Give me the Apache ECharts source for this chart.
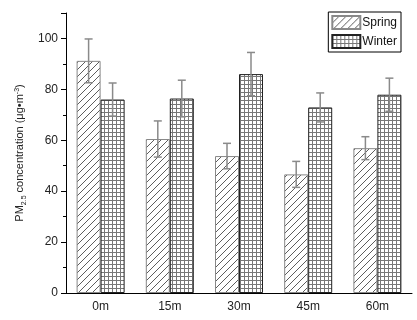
<!DOCTYPE html>
<html>
<head>
<meta charset="utf-8">
<script src="https://cdn.jsdelivr.net/npm/echarts@6/dist/echarts.min.js"></script>
<style>
  html, body { margin: 0; padding: 0; background: #fff; }
  #chart { width: 417px; height: 320px; }
</style>
</head>
<body>
<div id="chart"></div>
<script>
// sampling sites and measured means / standard deviations
const sites = ['0m', '15m', '30m', '45m', '60m'];
const springMean = [91.2, 60.5, 53.8, 46.6, 56.9];
const springErr = [8.6, 7.1, 5.0, 5.1, 4.5];
const winterMean = [76.0, 76.4, 86.0, 72.9, 77.9];
const winterErr = [6.5, 7.2, 8.5, 5.7, 6.5];

// hatch fills like the original plot
function hatchPattern() {
  const c = document.createElement('canvas');
  c.width = 7; c.height = 7;
  const ctx = c.getContext('2d');
  ctx.fillStyle = '#fff';
  ctx.fillRect(0, 0, 7, 7);
  ctx.strokeStyle = '#333';
  ctx.lineWidth = 0.8;
  ctx.beginPath();
  ctx.moveTo(-1, 8); ctx.lineTo(8, -1);
  ctx.moveTo(-1, 1); ctx.lineTo(1, -1);
  ctx.moveTo(6, 8); ctx.lineTo(8, 6);
  ctx.stroke();
  return c;
}

function gridPattern() {
  const c = document.createElement('canvas');
  c.width = 4; c.height = 4;
  const ctx = c.getContext('2d');
  ctx.fillStyle = '#fff';
  ctx.fillRect(0, 0, 4, 4);
  ctx.fillStyle = '#777';
  ctx.fillRect(0, 0, 4, 1);
  ctx.fillRect(0, 0, 1, 4);
  return c;
}

const barW = 24;

function errorSeries(name, means, errs, side) {
  return {
    type: 'custom',
    name: name + ' err',
    z: 5,
    data: means.map((m, i) => [i, m, errs[i]]),
    renderItem: function (params, api) {
      const i = api.value(0);
      const top = api.coord([i, api.value(1) + api.value(2)]);
      const bot = api.coord([i, api.value(1) - api.value(2)]);
      const x = top[0] + side * barW / 2;
      const cap = 4;
      const style = { stroke: '#8a8a8a', lineWidth: 1.5 };
      return {
        type: 'group',
        children: [
          { type: 'line', shape: { x1: x, y1: top[1], x2: x, y2: bot[1] }, style: style },
          { type: 'line', shape: { x1: x - cap, y1: top[1], x2: x + cap, y2: top[1] }, style: style },
          { type: 'line', shape: { x1: x - cap, y1: bot[1], x2: x + cap, y2: bot[1] }, style: style }
        ]
      };
    }
  };
}

const chart = echarts.init(document.getElementById('chart'));

chart.setOption({
  animation: false,
  backgroundColor: '#fff',
  textStyle: { fontFamily: 'Liberation Sans, Arial, sans-serif' },
  grid: { left: 66, right: 5, top: 13, bottom: 27 },
  legend: {
    data: ['Spring', 'Winter'],
    icon: 'rect',
    orient: 'vertical',
    right: 16,
    top: 12,
    itemWidth: 28,
    itemHeight: 13,
    itemGap: 4,
    padding: [3, 4, 3, 3],
    borderColor: '#000',
    borderWidth: 1,
    textStyle: { fontSize: 12, color: '#111', padding: [0, 0, 0, -3] }
  },
  xAxis: [{
    type: 'category',
    data: sites,
    axisLine: { lineStyle: { color: '#000', width: 1 } },
    axisTick: { alignWithLabel: true, length: 5, lineStyle: { color: '#000' } },
    axisLabel: { color: '#222', fontSize: 12, margin: 8 }
  }, {
    type: 'category',
    data: sites,
    position: 'bottom',
    axisLine: { show: false },
    axisTick: { inside: true, length: 3, lineStyle: { color: '#000' } },
    axisLabel: { show: false }
  }],
  yAxis: {
    type: 'value',
    min: 0,
    max: 110,
    interval: 20,
    name: 'PM{sub|2.5} concentration (μg•m{sup|-3})',
    nameLocation: 'middle',
    nameRotate: 90,
    nameGap: 33,
    nameTextStyle: {
      fontSize: 11,
      color: '#222',
      rich: {
        sub: { fontSize: 7, padding: [7, 0, 0, 0], color: '#222' },
        sup: { fontSize: 7, padding: [0, 0, 6, 0], color: '#222' }
      }
    },
    axisLine: { show: true, lineStyle: { color: '#000', width: 1 } },
    axisTick: { show: true, length: 5, lineStyle: { color: '#000' } },
    minorTick: { show: true, splitNumber: 2, length: 3, lineStyle: { color: '#000' } },
    splitLine: { show: false },
    axisLabel: {
      color: '#222',
      fontSize: 12,
      margin: 8,
      formatter: v => (v % 20 === 0 && v <= 100 ? v : '')
    }
  },
  series: [
    {
      name: 'Spring',
      type: 'bar',
      data: springMean,
      barWidth: barW,
      barGap: '0%',
      itemStyle: { color: { image: hatchPattern(), repeat: 'repeat' }, borderColor: '#888', borderWidth: 1 }
    },
    {
      name: 'Winter',
      type: 'bar',
      data: winterMean,
      barWidth: barW,
      barGap: '0%',
      itemStyle: { color: { image: gridPattern(), repeat: 'repeat' }, borderColor: '#222', borderWidth: 1 }
    },
    errorSeries('Spring', springMean, springErr, -1),
    errorSeries('Winter', winterMean, winterErr, 1)
  ]
});
</script>
</body>
</html>
